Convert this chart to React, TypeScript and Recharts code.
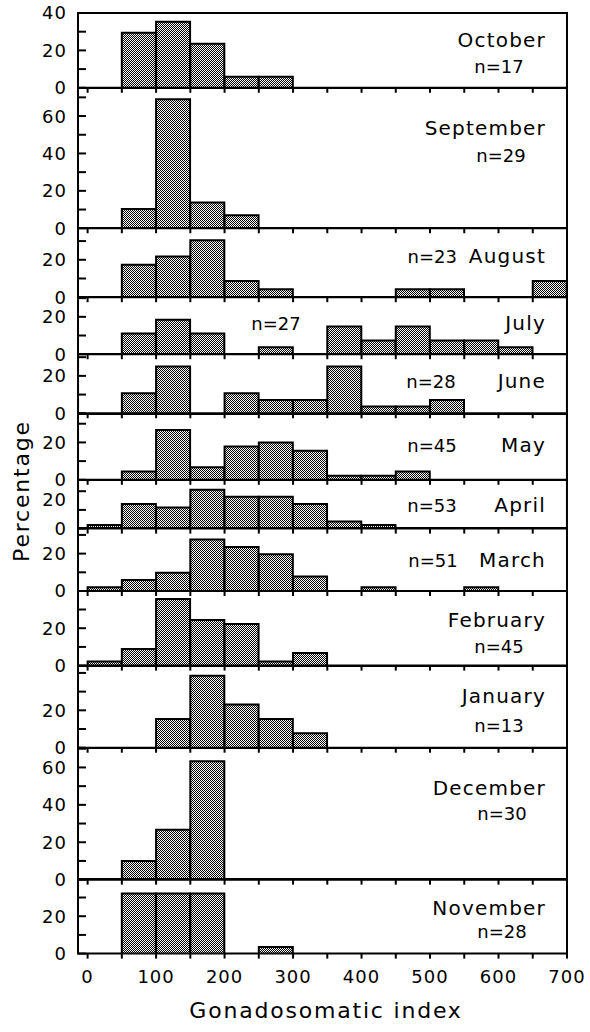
import React from "react";
import { BarChart, Bar, XAxis, YAxis, ReferenceArea } from "recharts";

// ---- data ----
const binStarts = [0, 50, 100, 150, 200, 250, 300, 350, 400, 450, 500, 550, 600, 650];
const xTicks = [0, 50, 100, 150, 200, 250, 300, 350, 400, 450, 500, 550, 600, 650, 700];
const xLabelTicks = [0, 100, 200, 300, 400, 500, 600, 700];

const months = ["October", "September", "August", "July", "June", "May", "April", "March", "February", "January", "December", "November"];
const sampleSizes = ["n=17", "n=29", "n=23", "n=27", "n=28", "n=45", "n=53", "n=51", "n=45", "n=13", "n=30", "n=28"];

const october = [0, 29.4, 35.3, 23.5, 5.9, 5.9, 0, 0, 0, 0, 0, 0, 0, 0];
const september = [0, 10.3, 69.0, 13.8, 6.9, 0, 0, 0, 0, 0, 0, 0, 0, 0];
const august = [0, 17.4, 21.7, 30.4, 8.7, 4.3, 0, 0, 0, 4.3, 4.3, 0, 0, 8.7];
const july = [0, 11.1, 18.5, 11.1, 0, 3.7, 0, 14.8, 7.4, 14.8, 7.4, 7.4, 3.7, 0];
const june = [0, 10.7, 25.0, 0, 10.7, 7.1, 7.1, 25.0, 3.6, 3.6, 7.1, 0, 0, 0];
const may = [0, 4.4, 26.7, 6.7, 17.8, 20.0, 15.6, 2.2, 2.2, 4.4, 0, 0, 0, 0];
const april = [1.9, 13.2, 11.3, 20.8, 17.0, 17.0, 13.2, 3.8, 1.9, 0, 0, 0, 0, 0];
const march = [2.0, 5.9, 9.8, 27.5, 23.5, 19.6, 7.8, 0, 2.0, 0, 0, 2.0, 0, 0];
const february = [2.2, 8.9, 35.6, 24.4, 22.2, 2.2, 6.7, 0, 0, 0, 0, 0, 0, 0];
const january = [0, 0, 15.4, 38.5, 23.1, 15.4, 7.7, 0, 0, 0, 0, 0, 0, 0];
const december = [0, 10.0, 26.7, 63.3, 0, 0, 0, 0, 0, 0, 0, 0, 0, 0];
const november = [0, 32.1, 32.1, 32.1, 0, 3.6, 0, 0, 0, 0, 0, 0, 0, 0];

const seriesByMonth = [october, september, august, july, june, may, april, march, february, january, december, november];
const yMax = [40, 75, 37, 30.6, 31.7, 35.2, 26, 33.7, 39.9, 43.7, 70.4, 39.9];

// ---- layout ----
const FONT = "'DejaVu Sans', sans-serif";
const X_MIN = -14;
const X_MAX = 700;
const BIN_W = 50;
const PX_PER_PCT = 1.87;
const TOP0 = 13;
const PLOT_LEFT = 78;
const PLOT_RIGHT_MARGIN = 23;
const MARGIN_TOP = 12;
// vertical nudge of the y tick labels, per panel (the April "20" sits low in the original)
const yLabelShift = [0, 0, 0, 0, 0, 0, 8, 0, 0, 0, 0, 0];

// label layout: [monthX, monthY, nX, nY, nAnchor]
const labelLayout: [number, number, number, number, string][] = [
  [546, 47, 499, 73, "middle"],
  [546, 135, 501, 162, "middle"],
  [546, 263, 457, 263, "end"],
  [546, 330, 276, 330, "middle"],
  [546, 388, 431, 388, "middle"],
  [546, 452, 432, 452, "middle"],
  [546, 512, 432, 512, "middle"],
  [546, 567, 433, 567, "middle"],
  [546, 627, 499, 653, "middle"],
  [546, 703, 499, 732, "middle"],
  [546, 795, 502, 820, "middle"],
  [546, 915, 502, 938, "middle"],
];

const YTick = (props: any) => {
  const { x, y, payload, max, first, shift } = props;
  const v = payload.value;
  const showLabel = v % 20 === 0 && (first || max - v > 5);
  return (
    <g>
      <line x1={x} x2={x + 8} y1={y} y2={y} stroke="#000" strokeWidth={2} />
      {showLabel && (
        <text
          x={x - 11}
          y={y + (v > 0 ? shift : 0)}
          dy="0.36em"
          textAnchor="end"
          fontFamily={FONT}
          fontSize={18}
          letterSpacing={1}
          fill="#000"
        >
          {v}
        </text>
      )}
    </g>
  );
};

const XTick = (props: any) => {
  const { x, y, payload, showLabel } = props;
  const v = payload.value;
  return (
    <g>
      <line x1={x} x2={x} y1={y} y2={y + 5} stroke="#000" strokeWidth={2} />
      {showLabel && xLabelTicks.includes(v) && (
        <text x={x} y={y + 29} textAnchor="middle" fontFamily={FONT} fontSize={18} letterSpacing={1} fill="#000">
          {v}
        </text>
      )}
    </g>
  );
};

const Panel = ({ idx, top }: { idx: number; top: number }) => {
  const max = yMax[idx];
  const values = seriesByMonth[idx];
  const data = binStarts.map((b, i) => ({ x: b + BIN_W / 2, v: values[i] }));
  const isLast = idx === months.length - 1;
  const bottom = isLast ? 45 : 9;
  const plotH = max * PX_PER_PCT;
  const yTicks: number[] = [];
  for (let t = 0; t <= max + 1e-6; t += 10) yTicks.push(t);
  return (
    <div style={{ position: "absolute", left: 0, top: top - MARGIN_TOP }}>
      <BarChart
        width={590}
        height={plotH + MARGIN_TOP + bottom}
        data={data}
        margin={{ top: MARGIN_TOP, right: PLOT_RIGHT_MARGIN, bottom: bottom - 1, left: PLOT_LEFT - 1 }}
        barCategoryGap={0}
        barGap={0}
      >
        <defs>
          <pattern id="checker" width={2} height={2} patternUnits="userSpaceOnUse">
            <rect x={0} y={0} width={2} height={2} fill="#fff" />
            <rect x={0} y={0} width={1} height={1} fill="#000" />
            <rect x={1} y={1} width={1} height={1} fill="#000" />
          </pattern>
        </defs>
        <XAxis
          dataKey="x"
          type="number"
          domain={[X_MIN, X_MAX]}
          ticks={xTicks}
          interval={0}
          height={1}
          axisLine={false}
          tickLine={false}
          tickSize={0}
          tickMargin={0}
          allowDataOverflow
          tick={(p: any) => <XTick {...p} showLabel={isLast} />}
        />
        <YAxis
          type="number"
          domain={[0, max]}
          ticks={yTicks}
          interval={0}
          width={1}
          axisLine={false}
          tickLine={false}
          tickSize={0}
          tickMargin={0}
          allowDataOverflow
          tick={(p: any) => <YTick {...p} max={max} first={idx === 0} shift={yLabelShift[idx]} />}
        />
        <Bar dataKey="v" fill="url(#checker)" stroke="#000" strokeWidth={2} isAnimationActive={false} />
        <ReferenceArea x1={X_MIN} x2={X_MAX} y1={0} y2={max} fill="none" stroke="#000" strokeWidth={2} fillOpacity={0} />
      </BarChart>
    </div>
  );
};

export default function App() {
  const tops: number[] = [];
  let acc = TOP0;
  for (let i = 0; i < months.length; i++) {
    tops.push(acc);
    acc += yMax[i] * PX_PER_PCT;
  }
  return (
    <div style={{ position: "absolute", left: 0, top: 0, width: 590, height: 1032, background: "#fff", overflow: "hidden" }}>
      {months.map((m, i) => (
        <Panel key={m} idx={i} top={tops[i]} />
      ))}
      <svg width={590} height={1032} style={{ position: "absolute", left: 0, top: 0, pointerEvents: "none" }}>
        {months.map((m, i) => {
          const [mx, my, nx, ny, na] = labelLayout[i];
          return (
            <g key={m}>
              <text x={mx} y={my} textAnchor="end" fontFamily={FONT} fontSize={20} letterSpacing={1.2} fill="#000">
                {m}
              </text>
              <text x={nx} y={ny} textAnchor={na as any} fontFamily={FONT} fontSize={18} fill="#000">
                {sampleSizes[i]}
              </text>
            </g>
          );
        })}
        <text x={326} y={1018} textAnchor="middle" fontFamily={FONT} fontSize={22} letterSpacing={1.8} fill="#000">
          Gonadosomatic index
        </text>
        <text
          x={0}
          y={0}
          transform="translate(29, 491) rotate(-90)"
          textAnchor="middle"
          fontFamily={FONT}
          fontSize={22}
          letterSpacing={1.8}
          fill="#000"
        >
          Percentage
        </text>
      </svg>
    </div>
  );
}
